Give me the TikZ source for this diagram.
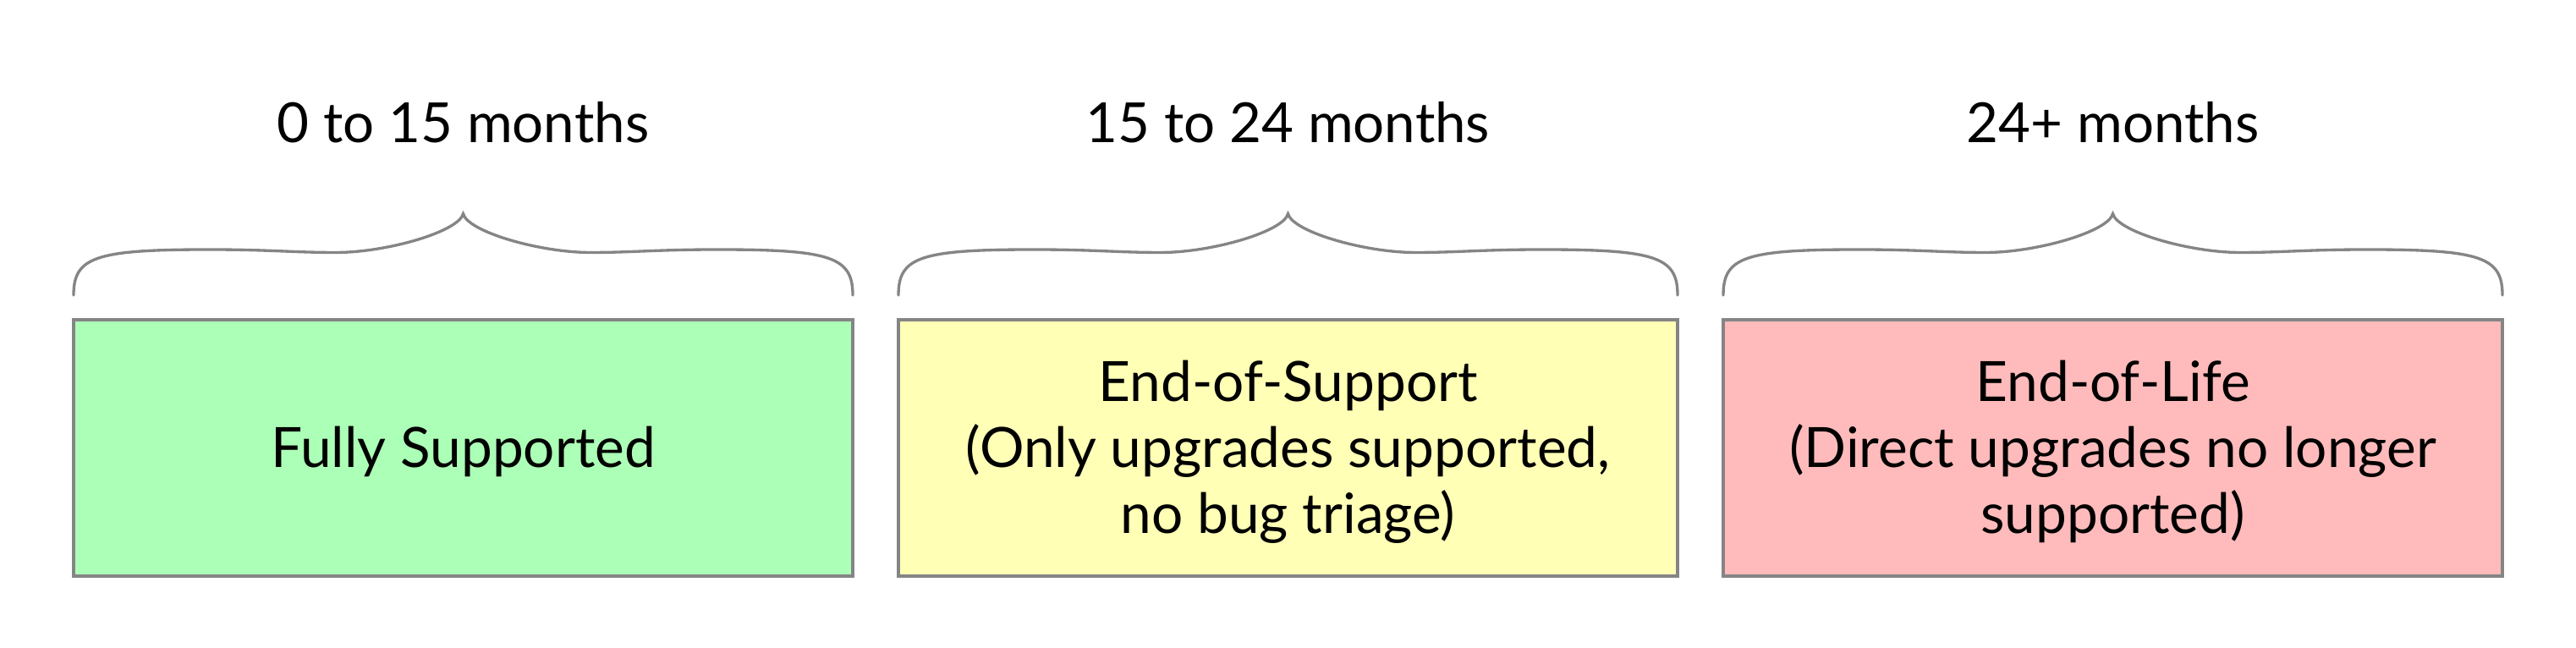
\documentclass[tikz,border=0pt]{standalone}
\usepackage{fontspec}
\setmainfont{Lato}
\usetikzlibrary{calc}
\definecolor{boxgreen}{RGB}{172,255,182}
\definecolor{boxyellow}{RGB}{255,255,182}
\definecolor{boxpink}{RGB}{255,187,187}
\definecolor{linegray}{RGB}{133,133,133}
\newcommand\mybracepath{(0,0) .. controls (0,0.45) and (0.25,0.54) .. (1.6,0.54) .. controls (2.3,0.54) and (2.6,0.505) .. (3.1,0.505) .. controls (3.7,0.505) and (4.55,0.75) .. (4.605,0.963) .. controls (4.66,0.75) and (5.51,0.505) .. (6.11,0.505) .. controls (6.61,0.505) and (6.91,0.54) .. (7.61,0.54) .. controls (8.96,0.54) and (9.21,0.45) .. (9.21,0)}
\tikzset{
  stagebox/.style={draw=linegray, line width=1pt, minimum width=9.21cm, minimum height=3.03cm, inner sep=0pt, outer sep=0pt},
  stagetext/.style={inner sep=0pt, align=center, font=\fontsize{18.7pt}{22.2pt}\selectfont},
  periodlabel/.style={anchor=base, inner sep=0pt, font=\fontsize{18.6pt}{24pt}\selectfont},
  bracestyle/.style={draw=linegray, line width=0.95pt, line cap=round}
}
\begin{document}
\begin{tikzpicture}
\useasboundingbox (0,0) rectangle (30.45,7.66);
\node[stagebox, fill=boxgreen] (b1) at (5.475,2.365) {};
\node[stagebox, fill=boxyellow] (b2) at (15.225,2.365) {};
\node[stagebox, fill=boxpink] (b3) at (24.975,2.365) {};
\node[stagetext] (s1) at ([yshift=-0.45mm]b1.center) {Fully Supported};
\node[stagetext] (s2) at ([yshift=-0.45mm]b2.center) {End-of-Support\\(Only upgrades supported,\\no bug triage)};
\node[stagetext] (s3) at ([yshift=-0.45mm]b3.center) {End-of-Life\\(Direct upgrades no longer\\supported)};
\node[periodlabel] (t1) at (b1.center |- 0,5.975) {0 to 15 months};
\node[periodlabel] (t2) at (b2.center |- 0,5.975) {15 to 24 months};
\node[periodlabel] (t3) at (b3.center |- 0,5.975) {24+ months};
\begin{scope}[shift={($(b1.north west)+(0,0.29)$)}]
\draw[bracestyle] \mybracepath;
\end{scope}
\begin{scope}[shift={($(b2.north west)+(0,0.29)$)}]
\draw[bracestyle] \mybracepath;
\end{scope}
\begin{scope}[shift={($(b3.north west)+(0,0.29)$)}]
\draw[bracestyle] \mybracepath;
\end{scope}
\end{tikzpicture}
\end{document}
